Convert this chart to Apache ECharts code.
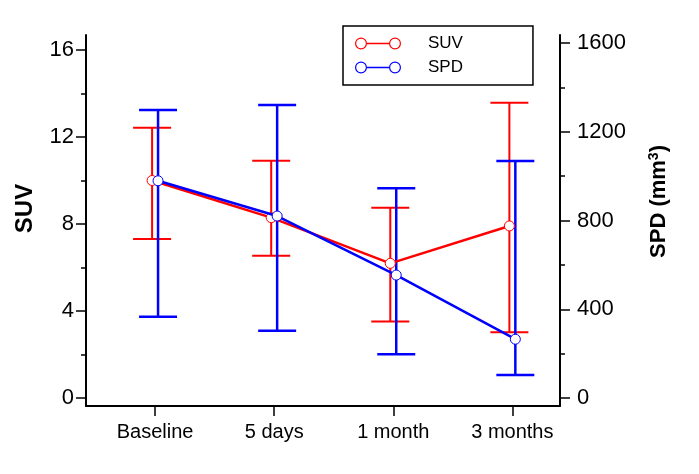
<!DOCTYPE html>
<html>
<head>
<meta charset="utf-8">
<script src="https://cdn.jsdelivr.net/npm/echarts@6/dist/echarts.min.js"></script>
<style>
html,body{margin:0;padding:0;background:#fff;}
#c{width:699px;height:474px;}
</style>
</head>
<body>
<div id="c"></div>
<script>
const categories = ['Baseline', '5 days', '1 month', '3 months'];
const suvMean  = [10.0, 8.29, 6.19, 7.91];
const suvUpper = [12.43, 10.91, 8.75, 13.58];
const suvLower = [7.31, 6.54, 3.51, 3.02];
const spdMean  = [979, 820, 554, 265];
const spdUpper = [1298, 1320, 945, 1068];
const spdLower = [366, 303, 197, 104];
const suvTicks = [0, 4, 8, 12, 16];
const suvMinorTicks = [2, 6, 10, 14];
const spdTicks = [0, 400, 800, 1200, 1600];
const spdMinorTicks = [200, 600, 1000, 1400];

const RED = '#ff0000';
const BLUE = '#0000ff';
const FONT = 'Liberation Sans, Arial, sans-serif';
const OFF = 0.025;

const catIdx = categories.map((_, i) => i);
function pts(vals, off) { return vals.map((v, i) => [i + off, v]); }
function errs(lo, hi, off) { return lo.map((v, i) => [i + off, v, hi[i]]); }

function errRender(color, width) {
  return function (params, api) {
    const x = api.value(0);
    const pLo = api.coord([x, api.value(1)]);
    const pHi = api.coord([x, api.value(2)]);
    const hw = 19;
    const st = { stroke: color, lineWidth: width };
    return {
      type: 'group',
      children: [
        { type: 'line', shape: { x1: pLo[0], y1: pLo[1], x2: pHi[0], y2: pHi[1] }, style: st },
        { type: 'line', shape: { x1: pLo[0] - hw, y1: pLo[1], x2: pLo[0] + hw, y2: pLo[1] }, style: st },
        { type: 'line', shape: { x1: pHi[0] - hw, y1: pHi[1], x2: pHi[0] + hw, y2: pHi[1] }, style: st }
      ]
    };
  };
}

const ring = (cx) => `M${cx - 6},6 A6,6 0 1,1 ${cx + 6},6 A6,6 0 1,1 ${cx - 6},6 Z M${cx - 4.8},6 A4.8,4.8 0 1,0 ${cx + 4.8},6 A4.8,4.8 0 1,0 ${cx - 4.8},6 Z`;
const legendIcon = 'path://' + ring(6) + ' M12,5.3 L34,5.3 L34,6.7 L12,6.7 Z ' + ring(40);

const axisLineStyle = { color: '#000', width: 2 };
const tickStyle = { color: '#000', width: 1.5 };

const chart = echarts.init(document.getElementById('c'));
chart.setOption({
  backgroundColor: '#fff',
  animation: false,
  textStyle: { fontFamily: FONT },
  grid: { left: 86, right: 139, top: 35, bottom: 68 },
  legend: {
    left: 343, top: 26,
    orient: 'vertical',
    icon: legendIcon,
    itemWidth: 46, itemHeight: 12, itemGap: 7,
    padding: [9, 70, 9, 12],
    borderColor: '#000', borderWidth: 1.5, borderRadius: 0,
    textStyle: { fontSize: 17, color: '#000', fontFamily: FONT, padding: [0, 0, 0, 22] },
    data: [
      { name: 'SUV', itemStyle: { color: RED, borderWidth: 0 } },
      { name: 'SPD', itemStyle: { color: BLUE, borderWidth: 0 } }
    ]
  },
  xAxis: {
    type: 'value', min: -0.58, max: 3.40,
    axisLine: { onZero: false, lineStyle: axisLineStyle },
    axisTick: { customValues: catIdx, length: 10, lineStyle: tickStyle },
    axisLabel: { customValues: catIdx, formatter: (v) => categories[Math.round(v)], fontSize: 20, color: '#000', margin: 16, fontFamily: FONT },
    splitLine: { show: false }
  },
  yAxis: [
    {
      type: 'value', min: -0.37, max: 16.69, position: 'left',
      axisLine: { show: true, onZero: false, lineStyle: axisLineStyle },
      axisTick: { customValues: suvTicks, length: 10, lineStyle: tickStyle },
      axisLabel: { customValues: suvTicks, formatter: (v) => String(v), fontSize: 22, color: '#000', margin: 12, fontFamily: FONT },
      splitLine: { show: false },
      name: 'SUV', nameLocation: 'middle', nameGap: 49, nameRotate: 90,
      nameTextStyle: { fontSize: 24, fontWeight: 'bold', color: '#000', fontFamily: FONT, padding: [0, 0, 0, 24] }
    },
    {
      type: 'value', min: -36, max: 1636, position: 'right',
      axisLine: { show: true, onZero: false, lineStyle: axisLineStyle },
      axisTick: { customValues: spdTicks, length: 10, lineStyle: tickStyle },
      axisLabel: { customValues: spdTicks, formatter: (v) => String(v), fontSize: 22, color: '#000', margin: 17, fontFamily: FONT },
      splitLine: { show: false },
      name: '{a|SPD (mm}{s|3}{a|)}', nameLocation: 'middle', nameGap: 87, nameRotate: 90,
      nameTextStyle: {
        padding: [0, 0, 0, 38],
        rich: {
          a: { fontSize: 22, fontWeight: 'bold', color: '#000', fontFamily: FONT, lineHeight: 24 },
          s: { fontSize: 14, fontWeight: 'bold', color: '#000', fontFamily: FONT, verticalAlign: 'top', lineHeight: 14 }
        }
      }
    },
    {
      type: 'value', min: -0.37, max: 16.69, position: 'left',
      axisLine: { show: false, onZero: false },
      axisTick: { show: true, customValues: suvMinorTicks, length: 5, lineStyle: tickStyle },
      axisLabel: { show: false },
      splitLine: { show: false }
    },
    {
      type: 'value', min: -36, max: 1636, position: 'right',
      axisLine: { show: false, onZero: false },
      axisTick: { show: true, customValues: spdMinorTicks, length: 5, lineStyle: tickStyle },
      axisLabel: { show: false },
      splitLine: { show: false }
    }
  ],
  series: [
    {
      name: 'SUV-err', type: 'custom', yAxisIndex: 0, z: 2,
      renderItem: errRender(RED, 2), data: errs(suvLower, suvUpper, -OFF)
    },
    {
      name: 'SPD-err', type: 'custom', yAxisIndex: 1, z: 3,
      renderItem: errRender(BLUE, 2.5), data: errs(spdLower, spdUpper, OFF)
    },
    {
      name: 'SUV', type: 'line', yAxisIndex: 0, z: 4,
      data: pts(suvMean, -OFF),
      symbol: 'circle', symbolSize: 10,
      lineStyle: { color: RED, width: 2.5 },
      itemStyle: { color: '#fff', borderColor: RED, borderWidth: 1 }
    },
    {
      name: 'SPD', type: 'line', yAxisIndex: 1, z: 5,
      data: pts(spdMean, OFF),
      symbol: 'circle', symbolSize: 10,
      lineStyle: { color: BLUE, width: 2.5 },
      itemStyle: { color: '#fff', borderColor: BLUE, borderWidth: 1 }
    }
  ]
});
</script>
</body>
</html>
